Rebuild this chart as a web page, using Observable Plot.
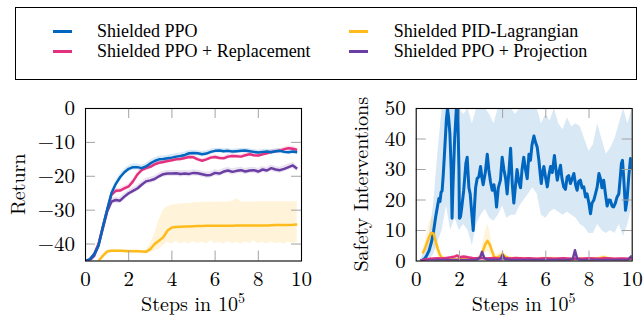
<!DOCTYPE html>
<html>
<head>
<meta charset="utf-8">
<script src="https://cdn.jsdelivr.net/npm/d3@7"></script>
<script src="https://cdn.jsdelivr.net/npm/@observablehq/plot@0.6"></script>
<style>
  html, body { margin: 0; padding: 0; background: #fff; }
  body { width: 644px; height: 316px; position: relative; overflow: hidden; font-family: "Liberation Serif", serif; }
  #legend { position: absolute; left: 15px; top: 7px; width: 622px; height: 73px; border: 1.6px solid #000; box-sizing: border-box; }
  .sw { position: absolute; width: 19px; height: 3px; }
  .lt { position: absolute; font-size: 18px; line-height: 18px; white-space: nowrap; color: #000; font-family: "Liberation Serif", serif; }
  .plot { position: absolute; top: 90px; }
</style>
</head>
<body>
<div id="legend"></div>
<div id="left" class="plot" style="left:0px"></div>
<div id="right" class="plot" style="left:320px"></div>
<script>
// ---------------- data ----------------
const seriesNames = ["Shielded PPO", "Shielded PPO + Replacement", "Shielded PID-Lagrangian", "Shielded PPO + Projection"];
const seriesColors = ["#0066bf", "#e3307f", "#ffbb1c", "#6a3ea3"];

const xTicks = [0, 2, 4, 6, 8, 10];
const returnTicks = [0, -10, -20, -30, -40];
const interventionTicks = [0, 10, 20, 30, 40, 50];

// Return (left panel), steps in 1e5
const returnSteps = [0,0.2,0.4,0.6,0.8,1.0,1.2,1.4,1.6,1.8,2.0,2.2,2.4,2.6,2.8,3.0,3.2,3.4,3.6,3.8,4.0,4.2,4.4,4.6,4.8,5.0,5.2,5.4,5.6,5.8,6.0,6.2,6.4,6.6,6.8,7.0,7.2,7.4,7.6,7.8,8.0,8.2,8.4,8.6,8.8,9.0,9.2,9.4,9.6,9.8];
const ppoReturn = [-45,-44.5,-43,-40.5,-35,-30,-25,-22.3,-20.3,-18.8,-17.8,-17.3,-17.3,-17.6,-17.1,-16.2,-15.5,-15.0,-14.9,-14.7,-14.5,-14.2,-14.0,-13.7,-13.2,-13.1,-13.2,-13.5,-13.3,-12.8,-12.5,-12.4,-12.6,-12.5,-12.7,-12.6,-12.5,-12.4,-12.6,-12.8,-13.0,-12.8,-12.7,-12.9,-12.6,-12.5,-12.8,-12.9,-12.7,-12.9];
const ppoReturnSpread = [0.2,0.3,0.5,0.7,0.8,0.9,0.9,0.9,0.9,0.9,0.9,0.9,0.9,0.9,0.9,0.9,0.9,0.9,0.9,0.9,0.9,0.9,0.9,0.9,0.8,0.8,0.8,0.8,0.8,0.8,0.7,0.7,0.7,0.7,0.7,0.7,0.7,0.7,0.7,0.7,0.7,0.7,0.7,0.7,0.7,0.7,0.7,0.7,0.7,0.7];
const replReturn = [-45,-44.5,-43,-40,-35,-30,-25.5,-24.3,-24.2,-23.6,-23.0,-21.5,-19.5,-18.2,-17.6,-17.2,-16.5,-16.0,-15.8,-15.5,-15.3,-15.0,-14.9,-14.6,-14.3,-14.4,-15.0,-15.4,-15.0,-14.5,-14.3,-14.6,-14.7,-14.2,-14.0,-14.1,-14.2,-13.8,-13.5,-13.8,-13.9,-13.5,-13.2,-12.8,-12.6,-12.5,-12.0,-11.7,-11.9,-12.2];
const replReturnSpread = [0.2,0.3,0.5,0.6,0.7,0.7,0.7,0.7,0.7,0.7,0.7,0.7,0.7,0.7,0.7,0.7,0.7,0.7,0.7,0.7,0.6,0.6,0.6,0.6,0.6,0.6,0.6,0.6,0.6,0.6,0.6,0.6,0.6,0.6,0.6,0.6,0.6,0.6,0.6,0.6,0.6,0.6,0.6,0.6,0.6,0.6,0.6,0.6,0.6,0.6];
const projReturn = [-45,-44.8,-43.5,-40.5,-35.5,-30.5,-27.5,-27.0,-27.2,-26.0,-25.0,-24.3,-23.6,-22.5,-21.5,-21.2,-20.8,-20.0,-19.4,-19.2,-19.2,-19.1,-19.3,-19.2,-19.3,-19.0,-19.1,-19.4,-19.7,-19.6,-19.0,-19.2,-18.6,-18.3,-18.7,-18.4,-18.2,-18.6,-18.3,-18.2,-18.6,-18.0,-18.3,-17.6,-18.0,-18.2,-17.8,-17.3,-16.8,-17.8];
const projReturnSpread = [0.2,0.3,0.5,0.7,0.8,0.9,0.9,0.9,0.9,0.9,0.9,0.9,0.9,0.9,0.9,0.9,0.9,0.9,0.9,0.9,0.9,0.9,0.9,0.9,0.9,0.9,0.9,0.9,0.9,0.9,0.9,0.9,0.9,0.9,0.9,0.9,0.9,0.9,0.9,0.9,0.9,0.9,0.9,0.9,0.9,0.9,0.9,0.9,0.9,0.9];
const pidSteps = [0.6,0.8,1.0,1.2,1.6,2.0,2.4,2.8,3.0,3.2,3.4,3.6,3.8,4.0,4.2,4.4,4.6,4.8,5.0,5.2,5.4,5.6,5.8,6.0,6.2,6.4,6.6,6.8,7.0,7.2,7.4,7.6,7.8,8.0,8.2,8.4,8.6,8.8,9.0,9.2,9.4,9.6,9.8];
const pidReturn = [-45,-43.5,-42.2,-42.0,-42.0,-42.1,-42.1,-42.3,-41.5,-40.0,-39.0,-38.0,-36.0,-35.1,-35.0,-34.9,-34.85,-34.8,-34.75,-34.7,-34.7,-34.6,-34.6,-34.6,-34.6,-34.6,-34.6,-34.6,-34.55,-34.5,-34.5,-34.5,-34.5,-34.5,-34.5,-34.5,-34.45,-34.4,-34.4,-34.4,-34.35,-34.3,-34.2];
const pidReturnLow = [-45,-44,-42.6,-42.5,-42.5,-42.6,-42.6,-42.7,-42.5,-42.0,-41.5,-40.5,-39.5,-40.0,-39.2,-40.0,-39.5,-40.0,-39.3,-39.8,-39.4,-40.0,-39.0,-39.8,-39.5,-40.0,-39.2,-39.9,-39.5,-40.0,-39.4,-39.8,-39.0,-39.9,-39.5,-40.0,-39.3,-39.8,-39.6,-40.0,-39.4,-39.9,-39.6];
const pidReturnHigh = [-45,-43,-41.8,-41.6,-41.6,-41.7,-41.7,-42.0,-40.0,-37.0,-33.0,-30.0,-29.0,-28.5,-28.3,-28.2,-28.0,-28.0,-27.8,-27.8,-27.7,-27.7,-27.7,-27.7,-27.6,-27.6,-27.6,-27.4,-26.6,-27.5,-27.6,-27.6,-27.6,-27.5,-27.5,-27.5,-27.5,-27.5,-27.5,-27.5,-27.5,-27.5,-27.5];

// Safety interventions (right panel)
const ppoIntSteps = [0.2,0.3,0.4,0.5,0.6,0.7,0.8,0.9,1.0,1.05,1.1,1.15,1.2,1.25,1.3,1.4,1.45,1.5,1.56,1.62,1.66,1.7,1.78,1.86,1.92,1.98,2.0,2.05,2.1,2.2,2.3,2.36,2.44,2.5,2.58,2.64,2.7,2.75,2.82,2.9,2.98,3.05,3.1,3.2,3.29,3.36,3.44,3.52,3.6,3.68,3.72,3.8,3.9,3.98,4.06,4.14,4.21,4.3,4.37,4.45,4.52,4.6,4.67,4.75,4.83,4.9,4.98,5.06,5.14,5.22,5.29,5.36,5.45,5.52,5.6,5.68,5.75,5.79,5.85,5.91,6.0,6.07,6.14,6.22,6.3,6.4,6.47,6.53,6.6,6.68,6.75,6.83,6.91,6.99,7.06,7.14,7.22,7.3,7.38,7.45,7.52,7.6,7.68,7.76,7.84,7.91,8.0,8.07,8.14,8.22,8.3,8.38,8.46,8.53,8.6,8.68,8.76,8.84,8.92,8.99,9.07,9.14,9.22,9.3,9.38,9.45,9.5,9.55,9.6,9.65,9.69,9.76,9.84,9.92,9.97,10.0];
const ppoInt = [0,0.3,0.8,2.0,3.5,6.0,9.5,14.4,18.5,20.5,19.5,22.5,23.0,28,34,46.7,50,47,41.8,30,14,24,40,50,50,30,14,14.5,17,23.2,32,34,24,22,15,10,18,24,27,27.6,31,27,25,29,35,30,26,23.2,25,21,17.7,24,26.5,34,30,27,22,30,37,25,19,25,30,26,24,30,34,30,27,35,33,38,41,39,37.4,33,28,25.4,29,31,27,24.3,28,31,29,34.6,30,26.5,29,31.4,27,24.3,23.5,27.6,28,25.4,27,28.7,25,23.2,26,26.5,24,24.3,21,22,18.8,15.5,19,19.9,22,24.3,28.7,27,24,26.5,22,18,20,19.9,18,17.7,19,21,22,27.6,32,33,28,22,16.6,20,27.6,33.6,33,30];
const ppoIntBandSteps = [0.2,0.4,0.6,0.8,1.0,1.2,1.4,1.6,1.8,2.0,2.2,2.4,2.6,2.8,3.0,3.2,3.4,3.6,3.8,4.0,4.2,4.4,4.6,4.8,5.0,5.2,5.4,5.6,5.8,6.0,6.2,6.4,6.6,6.8,7.0,7.2,7.4,7.6,7.8,8.0,8.2,8.4,8.6,8.8,9.0,9.2,9.4,9.6,9.8,10.0];
const ppoIntLow = [0,0,0.5,2,6,10,18,10,14,10,12,10,5,12,15,17,14,13,15,18,14,15,15,18,20,22,24,22,15,14,16,17,16,15,16,15,14,12,11,9,9,12,10,9,10,9,12,8,12,18];
const ppoIntHigh = [0.5,3,8,18,35,50,50,50,50,50,48,50,45,50,50,50,48,45,50,50,50,50,48,50,50,50,50,50,45,48,46,50,45,43,47,44,45,44,40,36,38,45,40,35,37,40,45,50,45,50];

const pidIntSteps = [0.3,0.4,0.5,0.6,0.7,0.8,0.9,1.0,1.1,1.2,1.4,1.6,2.0,2.4,2.8,3.0,3.1,3.2,3.3,3.4,3.5,3.6,3.7,3.85,4.0,4.1,4.3,4.6,5.0,5.5,6.0,6.5,7.0,7.5,8.0,8.5,8.7,8.9,9.2,9.6,10.0];
const pidInt = [2.5,4,6,8,9.2,9.0,6.5,4,2,1.0,0.6,0.5,0.6,0.6,0.6,1.5,3.5,5.5,6.6,5.5,3.5,1.5,1.0,1.5,2.3,1.5,0.9,0.8,0.7,0.6,0.8,0.7,0.6,0.7,0.6,0.9,1.2,0.8,0.6,0.6,0.6];
const pidIntLow = [1.5,2.5,3.5,4.5,5,5,3.5,2,0.8,0.4,0.2,0.2,0.2,0.2,0.2,0.6,1.5,2.5,3,2.5,1.5,0.6,0.4,0.6,1.0,0.6,0.3,0.3,0.3,0.2,0.3,0.3,0.2,0.3,0.2,0.4,0.5,0.3,0.2,0.2,0.2];
const pidIntHigh = [3.5,6,9,12,14.5,13.5,10,6,3.5,1.8,1.2,1.0,1.1,1.1,1.1,3,6,9.5,12,10,6,2.8,2.0,2.6,3.6,2.6,1.6,1.4,1.2,1.1,1.4,1.2,1.1,1.2,1.1,1.5,2,1.4,1.1,1.1,1.1];

const replIntSteps = [0.2,0.4,0.6,0.8,1.0,1.2,1.4,1.6,1.8,1.9,2.0,2.2,2.4,2.6,2.8,3.0,3.2,3.4,3.6,3.8,4.0,4.2,4.4,4.6,4.8,5.0,5.2,5.4,5.6,5.8,6.0,6.2,6.4,6.6,6.8,7.0,7.2,7.4,7.6,7.8,8.0,8.2,8.4,8.6,8.8,9.0,9.2,9.4,9.6,9.8,10.0];
const replInt = [0,0.5,0.7,0.8,0.9,0.8,1.0,1.2,1.5,1.8,1.2,1.5,1.2,1.0,0.9,1.0,0.8,0.9,1.0,0.8,1.0,0.9,0.8,1.0,0.9,0.8,0.9,0.8,0.7,0.8,0.9,0.8,0.7,0.8,0.9,0.8,0.7,0.8,0.7,0.8,0.9,0.8,0.7,0.8,0.9,0.8,0.7,0.8,0.8,0.7,0.8];

const projIntSteps = [0.2,0.6,1.0,2.0,2.8,2.95,3.05,3.15,3.3,3.9,4.0,4.1,4.5,5.0,6.0,7.0,7.25,7.35,7.45,7.6,8.0,9.0,9.8,9.95,10.0];
const projInt = [0,0.2,0.3,0.3,0.4,1.0,3.0,1.0,0.4,0.5,2.0,0.6,0.3,0.3,0.3,0.3,0.6,3.5,0.8,0.3,0.3,0.3,0.4,1.5,1.2];

// ---------------- helpers ----------------
const AXFONT = "'Latin Modern Roman', 'LM Roman 10', 'CMU Serif', 'Liberation Serif', serif";
const zipRows = (xs, ys, extra = {}) => xs.map((x, i) => {
  const row = {x, y: ys[i]};
  for (const [k, arr] of Object.entries(extra)) row[k] = arr[i];
  return row;
});
const minusFmt = d => d < 0 ? "\u2212" + Math.abs(d) : String(d);

// ---------------- legend ----------------
const legend = document.getElementById("legend");
const legendPos = [
  {sx: 52, tx: 96, cy: 30},
  {sx: 52, tx: 96, cy: 50},
  {sx: 348, tx: 392.7, cy: 30},
  {sx: 348, tx: 392.7, cy: 50}
];
seriesNames.forEach((name, i) => {
  const p = legendPos[i];
  const sw = document.createElement("div");
  sw.className = "sw";
  sw.style.background = seriesColors[i];
  sw.style.left = (p.sx - 15) + "px";
  sw.style.top = (p.cy - 7 - 1.5) + "px";
  legend.appendChild(sw);
  const t = document.createElement("div");
  t.className = "lt";
  t.textContent = name;
  t.style.left = (p.tx - 15) + "px";
  t.style.top = (p.cy - 7 - 9) + "px";
  legend.appendChild(t);
});

// ---------------- panels ----------------
function panel({width, marginLeft, marginRight, yDomain, yTicks, bands, lines, yLabel, yLabelX}) {
  const height = 226, marginTop = 18, marginBottom = 55.5;
  const innerW = width - marginLeft - marginRight;
  const innerH = height - marginTop - marginBottom;
  const tickLen = 10;
  const tickColor = "#a3a3a3";
  const innerXTicks = xTicks.slice(1, -1);
  const innerYTicks = yTicks.filter(t => t !== yDomain[0] && t !== yDomain[1]);
  const svg = Plot.plot({
    width, height, marginLeft, marginRight, marginTop, marginBottom,
    x: {domain: [0, 10]},
    y: {domain: yDomain},
    style: {fontFamily: AXFONT, fontSize: "21px", background: "#fff", color: "#000", overflow: "visible"},
    marks: [
      ...bands.map(b => Plot.areaY(b.data, {x: "x", y1: "lo", y2: "hi", fill: b.color, fillOpacity: b.opacity, curve: "linear", clip: true})),
      ...lines.map(l => Plot.lineY(l.data, {x: "x", y: "y", stroke: l.color, strokeWidth: l.width, strokeLinejoin: "round", strokeLinecap: "butt", clip: true})),
      Plot.tickX(innerXTicks, {x: d => d, insetTop: innerH - tickLen, stroke: tickColor, strokeWidth: 1}),
      Plot.tickX(innerXTicks, {x: d => d, insetBottom: innerH - tickLen, stroke: tickColor, strokeWidth: 1}),
      Plot.tickY(innerYTicks, {y: d => d, insetRight: innerW - tickLen, stroke: tickColor, strokeWidth: 1}),
      Plot.tickY(innerYTicks, {y: d => d, insetLeft: innerW - tickLen, stroke: tickColor, strokeWidth: 1}),
      Plot.frame({stroke: "#000", strokeWidth: 1.1}),
      Plot.axisX({ticks: xTicks, tickSize: 0, tickPadding: 10, label: null, fontSize: 21}),
      Plot.axisY({ticks: yTicks, tickSize: 0, tickPadding: 10.5, label: null, tickFormat: minusFmt, fontSize: 21})
    ]
  });
  svg.style.fontVariantNumeric = "normal";
  const s = d3.select(svg);
  const cx = marginLeft + innerW / 2;
  const xl = s.append("text")
    .attr("x", cx).attr("y", 311 - 90)
    .attr("text-anchor", "middle")
    .attr("font-family", AXFONT)
    .attr("font-size", 20)
    .attr("fill", "#000");
  xl.append("tspan").text("Steps in 10");
  xl.append("tspan").attr("dy", -8).attr("font-size", 14).text("5");
  s.append("text")
    .attr("transform", `translate(${yLabelX},${marginTop + innerH / 2}) rotate(-90)`)
    .attr("text-anchor", "middle")
    .attr("font-family", AXFONT)
    .attr("font-size", 20)
    .attr("fill", "#000")
    .text(yLabel);
  return svg;
}

const [cPPO, cRepl, cPID, cProj] = seriesColors;

const leftSvg = panel({
  width: 320, marginLeft: 85, marginRight: 19,
  yDomain: [-45, 0], yTicks: returnTicks,
  yLabel: "Return", yLabelX: 25,
  bands: [
    {data: zipRows(pidSteps, pidReturn, {lo: pidReturnLow, hi: pidReturnHigh}), color: cPID, opacity: 0.17},
    {data: zipRows(returnSteps, projReturn, {lo: projReturn.map((v, i) => v - projReturnSpread[i]), hi: projReturn.map((v, i) => v + projReturnSpread[i])}), color: cProj, opacity: 0.15},
    {data: zipRows(returnSteps, replReturn, {lo: replReturn.map((v, i) => v - replReturnSpread[i]), hi: replReturn.map((v, i) => v + replReturnSpread[i])}), color: cRepl, opacity: 0.15},
    {data: zipRows(returnSteps, ppoReturn, {lo: ppoReturn.map((v, i) => v - ppoReturnSpread[i]), hi: ppoReturn.map((v, i) => v + ppoReturnSpread[i])}), color: cPPO, opacity: 0.15}
  ],
  lines: [
    {data: zipRows(pidSteps, pidReturn), color: cPID, width: 2.5},
    {data: zipRows(returnSteps, projReturn), color: cProj, width: 2.5},
    {data: zipRows(returnSteps, replReturn), color: cRepl, width: 2.5},
    {data: zipRows(returnSteps, ppoReturn), color: cPPO, width: 2.5}
  ]
});
document.getElementById("left").appendChild(leftSvg);

const rightSvg = panel({
  width: 324, marginLeft: 95.7, marginRight: 12.3,
  yDomain: [0, 50], yTicks: interventionTicks,
  yLabel: "Safety Interventions", yLabelX: 48,
  bands: [
    {data: zipRows(ppoIntBandSteps, ppoIntLow, {lo: ppoIntLow, hi: ppoIntHigh}), color: cPPO, opacity: 0.15},
    {data: zipRows(pidIntSteps, pidInt, {lo: pidIntLow, hi: pidIntHigh}), color: cPID, opacity: 0.17}
  ],
  lines: [
    {data: zipRows(ppoIntSteps, ppoInt), color: cPPO, width: 3},
    {data: zipRows(pidIntSteps, pidInt), color: cPID, width: 2.5},
    {data: zipRows(replIntSteps, replInt), color: cRepl, width: 2.5},
    {data: zipRows(projIntSteps, projInt), color: cProj, width: 2.5}
  ]
});
document.getElementById("right").appendChild(rightSvg);
</script>
</body>
</html>
